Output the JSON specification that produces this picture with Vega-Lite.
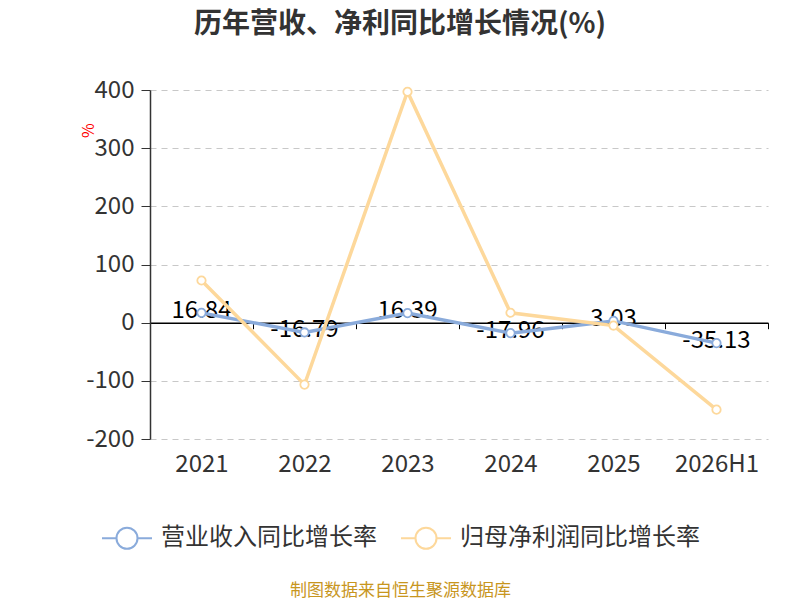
{
  "$schema": "https://vega.github.io/schema/vega-lite/v6.json",
  "width": 618,
  "height": 349,
  "autosize": {"type": "none"},
  "padding": {"left": 150, "top": 90, "right": 32, "bottom": 161},
  "background": "white",
  "title": {
    "text": "历年营收、净利同比增长情况(%)",
    "fontSize": 28,
    "fontWeight": "bold",
    "color": "#333333",
    "font": "Noto Sans CJK SC",
    "anchor": "middle",
    "dx": -59,
    "offset": 39
  },
  "data": {
    "values": [
      {"year": "2021", "series": "营业收入同比增长率", "value": 16.84},
      {"year": "2022", "series": "营业收入同比增长率", "value": -16.79},
      {"year": "2023", "series": "营业收入同比增长率", "value": 16.39},
      {"year": "2024", "series": "营业收入同比增长率", "value": -17.96},
      {"year": "2025", "series": "营业收入同比增长率", "value": 3.03},
      {"year": "2026H1", "series": "营业收入同比增长率", "value": -35.13},
      {"year": "2021", "series": "归母净利润同比增长率", "value": 72.5},
      {"year": "2022", "series": "归母净利润同比增长率", "value": -106.5},
      {"year": "2023", "series": "归母净利润同比增长率", "value": 397},
      {"year": "2024", "series": "归母净利润同比增长率", "value": 17},
      {"year": "2025", "series": "归母净利润同比增长率", "value": -5},
      {"year": "2026H1", "series": "归母净利润同比增长率", "value": -149.5}
    ]
  },
  "encoding": {
    "x": {
      "field": "year",
      "type": "ordinal",
      "sort": null,
      "scale": {"paddingInner": 0, "paddingOuter": 0},
      "axis": {
        "title": "制图数据来自恒生聚源数据库",
        "titleFont": "Noto Sans CJK SC",
        "titleFontSize": 17,
        "titleFontWeight": "normal",
        "titleColor": "#c8961e",
        "titleX": 250,
        "titleY": 268,
        "titleBaseline": "middle",
        "orient": "bottom",
        "offset": -116.3,
        "labelAngle": 0,
        "labelFont": "Noto Sans CJK SC",
        "labelFontSize": 24,
        "labelColor": "#333333",
        "labelPadding": 124,
        "domainColor": "#000000",
        "domainWidth": 1.5,
        "tickColor": "#000000",
        "tickBand": "extent",
        "tickSize": 6,
        "grid": false
      }
    },
    "y": {
      "field": "value",
      "type": "quantitative",
      "scale": {"domain": [-200, 400]},
      "axis": {
        "values": [-200, -100, 0, 100, 200, 300, 400],
        "labelExpr": "toString(datum.value)",
        "title": "%",
        "titleColor": "#ff0000",
        "titleFont": "Noto Sans CJK SC",
        "titleFontSize": 16,
        "titleFontWeight": "normal",
        "titleAngle": -90,
        "titleX": -54,
        "titleY": 40,
        "labelFont": "Noto Sans CJK SC",
        "labelFontSize": 24,
        "labelColor": "#333333",
        "labelPadding": 7,
        "domainColor": "#333333",
        "domainWidth": 1.5,
        "tickColor": "#333333",
        "tickSize": 9,
        "grid": true,
        "gridColor": "#c8c8c8",
        "gridDash": [6, 5],
        "gridWidth": 1.2
      }
    }
  },
  "layer": [
    {
      "transform": [{"filter": "datum.series === '营业收入同比增长率'"}],
      "mark": {
        "type": "text",
        "font": "Noto Sans CJK SC",
        "fontSize": 24,
        "baseline": "middle",
        "dy": -2,
        "color": "#000000"
      },
      "encoding": {
        "text": {"field": "value", "type": "nominal"}
      }
    },
    {
      "mark": {
        "type": "line",
        "strokeWidth": 3.5,
        "point": {"filled": false, "fill": "white", "size": 70, "strokeWidth": 1.8}
      },
      "encoding": {
        "color": {
          "field": "series",
          "type": "nominal",
          "sort": ["营业收入同比增长率", "归母净利润同比增长率"],
          "scale": {
            "domain": ["营业收入同比增长率", "归母净利润同比增长率"],
            "range": ["#8aabdb", "#fdd89b"]
          },
          "legend": {
            "title": null,
            "orient": "none",
            "direction": "horizontal",
            "legendX": -49,
            "legendY": 422,
            "symbolType": "M-1,0L-0.42,0M0.42,0L1,0M0.42,0A0.42,0.42 0 1,1 -0.42,0A0.42,0.42 0 1,1 0.42,0Z",
            "symbolSize": 2500,
            "symbolStrokeWidth": 2,
            "symbolFillColor": "white",
            "labelFont": "Noto Sans CJK SC",
            "labelFontSize": 24,
            "labelColor": "#333333",
            "labelOffset": 8,
            "labelLimit": 300,
            "columnPadding": 20,
            "encode": {
              "symbols": {"update": {"fill": {"value": "white"}, "fillOpacity": {"value": 1}}}
            }
          }
        }
      }
    }
  ],
  "config": {
    "view": {"stroke": null},
    "font": "Noto Sans CJK SC"
  }
}
